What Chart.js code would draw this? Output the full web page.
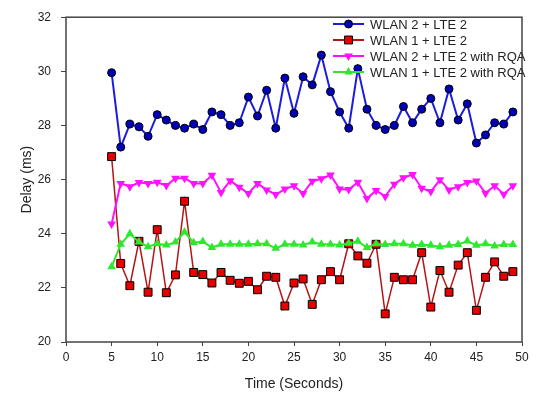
<!DOCTYPE html>
<html><head><meta charset="utf-8">
<script src="https://cdn.jsdelivr.net/npm/chart.js@4/dist/chart.umd.min.js"></script>
<style>html,body{margin:0;padding:0;background:#fff}</style>
</head><body>
<canvas id="c" width="536" height="398"></canvas>
<script>
const times = [5,6,7,8,9,10,11,12,13,14,15,16,17,18,19,20,21,22,23,24,25,26,27,28,29,30,31,32,33,34,35,36,37,38,39,40,41,42,43,44,45,46,47,48,49];
const labels = ["WLAN 2 + LTE 2","WLAN 1 + LTE 2","WLAN 2 + LTE 2 with RQA","WLAN 1 + LTE 2 with RQA"];
const wlan2Lte2 = [29.95,27.2,28.05,27.95,27.6,28.4,28.2,28.0,27.9,28.05,27.85,28.5,28.4,28.0,28.1,29.05,28.35,29.3,27.9,29.75,28.45,29.8,29.5,30.6,29.25,28.5,27.9,30.1,28.6,28.0,27.85,28.0,28.7,28.1,28.6,29.0,28.1,29.35,28.2,28.8,27.35,27.65,28.1,28.05,28.5];
const wlan1Lte2 = [26.85,22.9,22.08,23.72,21.84,24.15,21.82,22.48,25.2,22.57,22.49,22.18,22.57,22.28,22.17,22.24,21.93,22.43,22.39,21.33,22.18,22.33,21.39,22.3,22.6,22.3,23.63,23.18,22.91,23.61,21.04,22.39,22.3,22.3,23.3,21.29,22.64,21.84,22.84,23.3,21.17,22.39,22.96,22.43,22.6];
const wlan2Lte2Rqa = [24.36,25.86,25.74,25.89,25.86,25.9,25.78,26.05,26.05,25.86,25.86,26.16,25.52,25.96,25.72,25.49,25.86,25.62,25.45,25.65,25.77,25.49,25.94,26.03,26.17,25.65,25.63,25.9,25.3,25.6,25.38,25.83,26.07,26.19,25.68,25.56,25.99,25.62,25.74,25.89,25.95,25.5,25.77,25.46,25.77];
const wlan1Lte2Rqa = [22.78,23.61,24.0,23.69,23.52,23.63,23.58,23.69,24.06,23.67,23.71,23.49,23.61,23.61,23.61,23.61,23.63,23.63,23.46,23.61,23.61,23.58,23.69,23.61,23.61,23.58,23.65,23.72,23.49,23.63,23.6,23.63,23.63,23.57,23.6,23.57,23.52,23.57,23.6,23.73,23.57,23.63,23.55,23.6,23.6];

const toXY = arr => arr.map((v,i)=>({x:times[i], y:v}));
const FONT = "'Liberation Sans', Arial, sans-serif";

const styles = [
  {borderColor:'#1c1cdc', backgroundColor:'#0000b4', pointBorderColor:'#000', pointStyle:'circle', pointRadius:4, pointBorderWidth:1, borderWidth:2, rotation:0},
  {borderColor:'#b41414', backgroundColor:'#e80000', pointBorderColor:'#000', pointStyle:'rect', pointRadius:5.6, pointBorderWidth:1, borderWidth:1.5, rotation:0},
  {borderColor:'#ff10ff', backgroundColor:'#ff10ff', pointBorderColor:'#ff10ff', pointStyle:'triangle', pointRadius:5, pointBorderWidth:0, borderWidth:2, rotation:180},
  {borderColor:'#2ee82e', backgroundColor:'#2ee82e', pointBorderColor:'#2ee82e', pointStyle:'triangle', pointRadius:5, pointBorderWidth:0, borderWidth:2, rotation:0}
];
const series = [wlan2Lte2, wlan1Lte2, wlan2Lte2Rqa, wlan1Lte2Rqa];

const datasets = series.map((s,i)=>({
  label: labels[i],
  data: toXY(s),
  borderColor: styles[i].borderColor,
  backgroundColor: styles[i].backgroundColor,
  pointBackgroundColor: styles[i].backgroundColor,
  pointBorderColor: styles[i].pointBorderColor,
  pointBorderWidth: styles[i].pointBorderWidth,
  pointStyle: styles[i].pointStyle,
  pointRadius: styles[i].pointRadius,
  pointRotation: styles[i].rotation,
  borderWidth: styles[i].borderWidth,
  tension: 0,
  fill: false,
  order: 4 - i
}));

const framePlugin = {
  id:'frame',
  beforeDatasetsDraw(chart){
    const {ctx, chartArea:a} = chart;
    ctx.save();
    ctx.strokeStyle = '#444';
    ctx.lineWidth = 1.5;
    ctx.strokeRect(a.left, a.top, a.right - a.left, a.bottom - a.top);
    ctx.restore();
  }
};

const legendPlugin = {
  id:'customLegend',
  afterDatasetsDraw(chart){
    const ctx = chart.ctx;
    ctx.save();
    chart.data.datasets.forEach((ds,i)=>{
      const y = 24 + i*16;
      const x0 = 333, x1 = 364, xm = (x0+x1)/2;
      ctx.strokeStyle = ds.borderColor;
      ctx.lineWidth = 2;
      ctx.beginPath(); ctx.moveTo(x0,y); ctx.lineTo(x1,y); ctx.stroke();
      ctx.fillStyle = ds.pointBackgroundColor;
      ctx.strokeStyle = ds.pointBorderColor;
      ctx.lineWidth = ds.pointBorderWidth;
      Chart.helpers.drawPoint(ctx, {pointStyle: ds.pointStyle, rotation: ds.pointRotation, radius: ds.pointRadius, borderWidth: ds.pointBorderWidth}, xm, y);
      ctx.fillStyle = '#222';
      ctx.font = '13px ' + FONT;
      ctx.textBaseline = 'middle';
      ctx.textAlign = 'left';
      ctx.fillText(ds.label, 370, y + 1);
    });
    ctx.restore();
  }
};

new Chart(document.getElementById('c'), {
  type:'line',
  data:{ datasets },
  options:{
    responsive:false,
    animation:false,
    layout:{ padding:{left:0, right:14, top:14, bottom:0} },
    plugins:{ legend:{display:false}, tooltip:{enabled:false} },
    scales:{
      x:{
        type:'linear', min:0, max:50,
        ticks:{ stepSize:5, color:'#222', font:{family:FONT, size:12}, padding:4, maxRotation:0 },
        grid:{ drawOnChartArea:false, drawTicks:true, tickLength:4, tickColor:'#444' },
        border:{ display:false },
        title:{ display:true, text:'Time (Seconds)', color:'#222', font:{family:FONT, size:14}, padding:{top:0, bottom:5} },
        afterFit(s){ s.height = 56; }
      },
      y:{
        type:'linear', min:20, max:32,
        ticks:{ stepSize:2, color:'#222', font:{family:FONT, size:12}, padding:10 },
        grid:{ drawOnChartArea:false, drawTicks:true, tickLength:5, tickColor:'#444' },
        border:{ display:false },
        title:{ display:true, text:'Delay (ms)', color:'#222', font:{family:FONT, size:14}, padding:{top:19, bottom:0} },
        afterFit(s){ s.width = 66; }
      }
    }
  },
  plugins:[framePlugin, legendPlugin]
});
</script>
</body></html>
